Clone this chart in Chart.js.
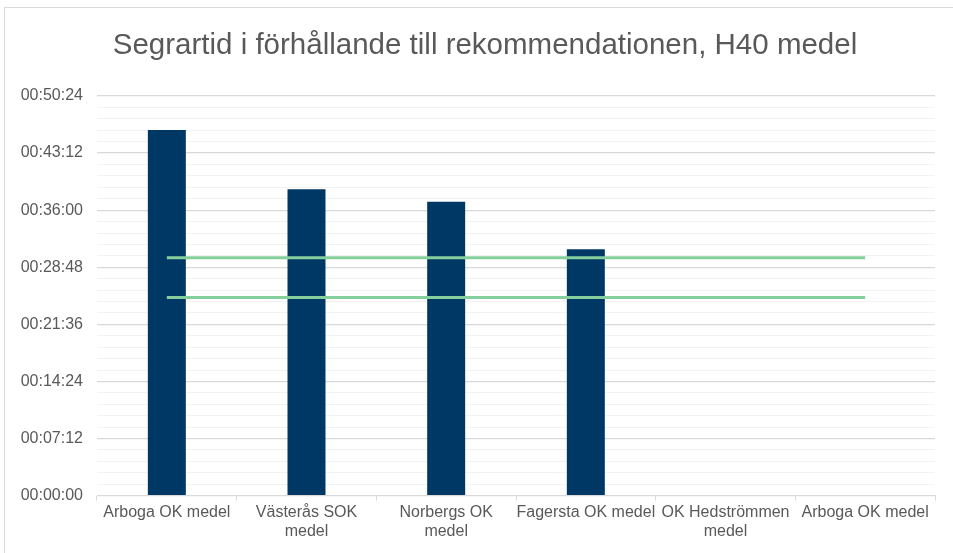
<!DOCTYPE html>
<html>
<head>
<meta charset="utf-8">
<script src="https://cdn.jsdelivr.net/npm/chart.js@4"></script>
<style>
  body { margin: 0; background: #fff; }
  #wrap { position: relative; width: 953px; height: 553px; }
  #frame { position: absolute; left: 4px; top: 7px; right: -2px; bottom: -2px; border: 1px solid #d9d9d9; }
  canvas { position: absolute; left: 0; top: 0; }
</style>
</head>
<body>
<div id="wrap">
  <div id="frame"></div>
  <canvas id="chart" width="953" height="553"></canvas>
</div>
<script>
  // values in seconds
  const categories = [
    'Arboga OK medel',
    ['Västerås SOK', 'medel'],
    ['Norbergs OK', 'medel'],
    'Fagersta OK medel',
    ['OK Hedströmmen', 'medel'],
    'Arboga OK medel'
  ];
  const winTimes = [2767, 2319, 2223, 1865, null, null];
  const upperRec = [1800, 1800, 1800, 1800, 1800, 1800];
  const lowerRec = [1500, 1500, 1500, 1500, 1500, 1500];
  const yMax = 3024;      // 00:50:24
  const minorStep = 86.4; // 1/5 of 00:07:12
  const titleText = 'Segrartid i förhållande till rekommendationen, H40 medel';

  function fmt(sec) {
    sec = Math.round(sec);
    const h = Math.floor(sec / 3600);
    const m = Math.floor((sec % 3600) / 60);
    const s = sec % 60;
    return [h, m, s].map(v => String(v).padStart(2, '0')).join(':');
  }

  const font = "'Liberation Sans', Arial, sans-serif";
  const grey = '#595959';
  const green = '#84cf9b';

  // title sits off the canvas centre in the original, so draw it by hand
  const titlePlugin = {
    id: 'offTitle',
    afterDraw(chart) {
      const c = chart.ctx;
      c.save();
      c.font = '29.5px ' + font;
      c.fillStyle = grey;
      c.textAlign = 'center';
      c.textBaseline = 'middle';
      c.fillText(titleText, 485, 46);
      c.restore();
    }
  };

  new Chart(document.getElementById('chart'), {
    type: 'bar',
    data: {
      labels: categories,
      datasets: [
        {
          type: 'line', data: upperRec, borderColor: green, borderWidth: 3,
          pointRadius: 0, fill: false, order: 0
        },
        {
          type: 'line', data: lowerRec, borderColor: green, borderWidth: 3,
          pointRadius: 0, fill: false, order: 0
        },
        {
          data: winTimes, backgroundColor: '#003865',
          categoryPercentage: 1, barPercentage: 0.272, order: 1
        }
      ]
    },
    plugins: [titlePlugin],
    options: {
      responsive: false,
      animation: false,
      layout: { padding: { left: 0, right: 18, top: 96, bottom: 10 } },
      plugins: {
        legend: { display: false },
        tooltip: { enabled: false },
        title: { display: false }
      },
      scales: {
        x: {
          grid: { display: true, drawOnChartArea: false, drawTicks: true, tickLength: 5, color: '#d9d9d9', offset: true },
          border: { color: '#d9d9d9' },
          ticks: { color: grey, font: { family: font, size: 16 }, maxRotation: 0, autoSkip: false, padding: 2 }
        },
        y: {
          min: 0,
          max: yMax,
          afterBuildTicks: axis => {
            const t = [];
            for (let i = 0; i * minorStep <= yMax + 0.01; i++) t.push({ value: i * minorStep });
            axis.ticks = t;
          },
          afterFit: axis => { axis.width = 97; },
          grid: {
            color: ctx => (ctx.index % 5 === 0 ? '#d9d9d9' : '#f2f2f2'),
            lineWidth: ctx => (ctx.index % 5 === 0 ? 1.3 : 1),
            drawTicks: false
          },
          border: { display: false },
          ticks: {
            color: grey,
            font: { family: font, size: 16 },
            padding: 14,
            autoSkip: false,
            callback: (v, i) => (i % 5 === 0 ? fmt(v) : '')
          }
        }
      }
    }
  });
</script>
</body>
</html>
